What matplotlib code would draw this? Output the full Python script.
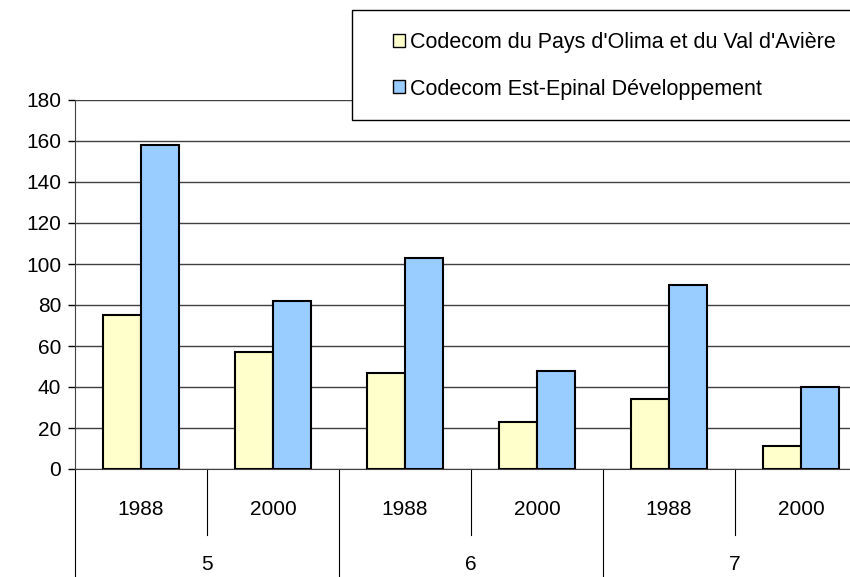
import matplotlib.pyplot as plt
from matplotlib.patches import Rectangle
import matplotlib.transforms as mtransforms

plt.rcParams['font.family'] = ['Liberation Sans', 'DejaVu Sans']

# data
groups = ["5", "6", "7"]
years = ["1988", "2000"]
olima = [75, 57, 47, 23, 34, 11]
epinal = [158, 82, 103, 48, 90, 40]
series_names = ["Codecom du Pays d'Olima et du Val d'Avière",
                "Codecom Est-Epinal Développement"]
yticks = list(range(0, 181, 20))

W, H = 850, 577
fig = plt.figure(figsize=(W / 100, H / 100), dpi=100)
ax = fig.add_axes([75 / W, 1 - 469 / H, 792 / W, 369 / H])

x = list(range(len(olima)))
bw = 0.29
b1 = ax.bar([i - bw / 2 for i in x], olima, bw, color="#ffffcc",
            edgecolor="black", linewidth=1.5, zorder=3)
b2 = ax.bar([i + bw / 2 for i in x], epinal, bw, color="#99ccff",
            edgecolor="black", linewidth=1.5, zorder=3)

ax.set_xlim(-0.5, len(olima) - 0.5)
ax.set_ylim(0, 180)
ax.set_yticks(yticks)
ax.tick_params(axis="y", direction="out", length=5, width=1, pad=5, labelsize=15)
ax.set_xticks([])
ax.yaxis.grid(True, color="#404040", linewidth=1)
ax.set_axisbelow(True)
for s in ["top", "right"]:
    ax.spines[s].set_visible(False)
ax.spines["left"].set_color("#404040")
ax.spines["bottom"].set_color("#404040")

# two-level category axis
trans = mtransforms.blended_transform_factory(ax.transData, ax.transAxes)
for i in range(len(olima) + 1):
    xpos = i - 0.5
    bottom = -0.35 if i % 2 == 0 else -0.18
    ax.plot([xpos, xpos], [0, bottom], color="black", lw=0.8,
            transform=trans, clip_on=False)
for i in x:
    ax.text(i, -0.11, years[i % 2], transform=trans, ha="center",
            va="center", fontsize=15)
for g, name in enumerate(groups):
    ax.text(2 * g + 0.5, -0.26, name, transform=trans, ha="center",
            va="center", fontsize=15)

# legend with its own frame running off the right edge
fig.patches.append(Rectangle((352 / W, 1 - 120 / H), 520 / W, 110 / H,
                             transform=fig.transFigure, facecolor="white",
                             edgecolor="black", linewidth=1, zorder=5))
leg = fig.legend([b1, b2], series_names, loc="upper left",
                 bbox_to_anchor=(382 / W, 1 - 21 / H), frameon=False,
                 fontsize=15.5, handlelength=0.55, handleheight=0.55,
                 handletextpad=0.25, labelspacing=1.2, borderpad=0)
leg.set_zorder(6)
for h in leg.legend_handles:
    h.set_linewidth(1)

fig.savefig("out.png", dpi=100)
